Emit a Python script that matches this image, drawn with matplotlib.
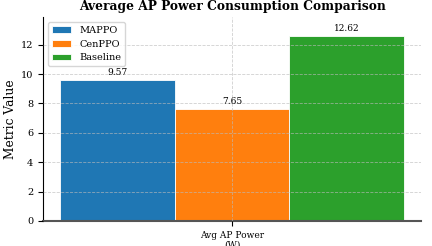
import numpy as np
import matplotlib.pyplot as plt

plt.rcParams['font.family'] = ['DejaVu Serif']

# data
metrics = ['Avg AP Power\n(W)']
methods = ['MAPPO', 'CenPPO', 'Baseline']
mappo = [9.57]
cenppo = [7.65]
baseline = [12.62]
colors = ['#1f77b4', '#ff7f0e', '#2ca02c']

fig, ax = plt.subplots(figsize=(4.32, 2.46), dpi=100)

index = np.arange(len(metrics))
bar_width = 0.25
series = [mappo, cenppo, baseline]

for i, (name, vals) in enumerate(zip(methods, series)):
    rects = ax.bar(index + (i - 1) * bar_width, vals, bar_width,
                   color=colors[i], edgecolor='white', linewidth=0.6,
                   label=name, zorder=1)
    for r, v in zip(rects, vals):
        ax.text(r.get_x() + r.get_width() / 2, r.get_height() + 0.2,
                '%.2f' % v, ha='center', va='bottom', fontsize=6.5)

ax.set_ylim(0, max(baseline) * 1.1)
ax.set_xticks(index)
ax.set_xticklabels(metrics, fontsize=6.5)
ax.tick_params(axis='y', labelsize=7)
ax.set_ylabel('Metric Value', fontsize=8.8, labelpad=3)
ax.set_title('Average AP Power Consumption Comparison', fontsize=8.8,
             fontweight='bold', pad=5)
ax.grid(True, linestyle='--', color='#bbbbbb', alpha=0.7, linewidth=0.6, zorder=3)
ax.set_axisbelow(False)
ax.spines['top'].set_visible(False)
ax.spines['right'].set_visible(False)
ax.spines['bottom'].set_color('#555555')
ax.spines['bottom'].set_linewidth(1.5)
ax.legend(loc='upper left', fontsize=7)

plt.subplots_adjust(left=0.1, right=0.975, bottom=0.102, top=0.931)
plt.savefig('out.png')
